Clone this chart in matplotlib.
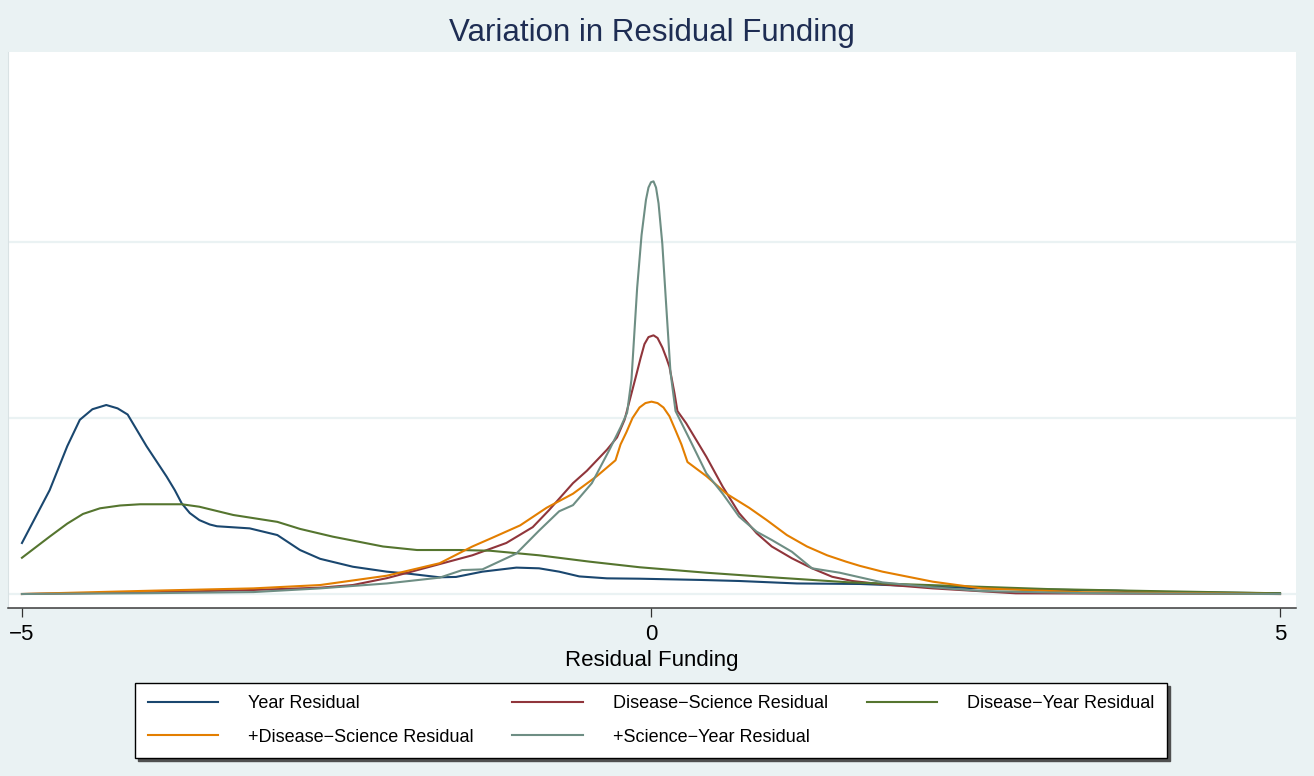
import matplotlib
matplotlib.use('Agg')
import matplotlib.pyplot as plt

plt.rcParams['font.family'] = ['Liberation Sans', 'DejaVu Sans']

# ---------------- data ----------------
year_x = [-5.00, -4.78, -4.64, -4.54, -4.44, -4.33, -4.24, -4.16, -4.01, -3.85,
          -3.785, -3.73, -3.666, -3.59, -3.507, -3.45, -3.19, -2.97, -2.79, -2.63,
          -2.37, -2.10, -1.92, -1.68, -1.55, -1.34, -1.07, -0.89, -0.73, -0.57,
          -0.35, -0.09, 0.39, 0.70, 1.16, 1.66, 2.10, 2.63, 3.04, 3.70,
          3.98, 5.00]
year_y = [0.29, 0.59, 0.84, 0.99, 1.05, 1.074, 1.055, 1.02, 0.84, 0.667,
          0.59, 0.515, 0.46, 0.42, 0.395, 0.385, 0.373, 0.335, 0.25, 0.20,
          0.155, 0.127, 0.115, 0.095, 0.097, 0.127, 0.15, 0.146, 0.127, 0.10,
          0.089, 0.087, 0.08, 0.074, 0.06, 0.057, 0.045, 0.032, 0.026, 0.019,
          0.012, 0.004]

dys_x = [-5.00, -4.78, -4.64, -4.515, -4.38, -4.22, -4.06, -3.73, -3.59, -3.32,
         -2.97, -2.79, -2.53, -2.13, -1.86, -1.52, -1.28, -0.89, -0.49, -0.09,
         0.44, 0.96, 1.58, 2.37, 3.16, 3.96, 5.00]
dys_y = [0.206, 0.326, 0.40, 0.455, 0.487, 0.503, 0.51, 0.51, 0.496, 0.449,
         0.41, 0.37, 0.326, 0.27, 0.25, 0.25, 0.246, 0.22, 0.184, 0.152,
         0.121, 0.095, 0.066, 0.047, 0.028, 0.017, 0.004]

dsr_x = [-5.00, -3.96, -3.16, -2.63, -2.37, -2.10, -1.94, -1.68, -1.42, -1.15,
         -0.94, -0.81, -0.62, -0.51, -0.35, -0.27, -0.21, -0.155, -0.115, -0.083,
         -0.052, -0.02, 0.02, 0.052, 0.091, 0.123, 0.147, 0.187, 0.21, 0.28,
         0.44, 0.57, 0.70, 0.84, 0.96, 1.12, 1.28, 1.44, 1.60, 1.84,
         2.24, 2.90, 5.00]
dsr_y = [0.0, 0.01, 0.023, 0.036, 0.051, 0.09, 0.12, 0.17, 0.22, 0.29,
         0.38, 0.477, 0.63, 0.70, 0.82, 0.89, 0.99, 1.14, 1.25, 1.34,
         1.42, 1.46, 1.47, 1.455, 1.40, 1.34, 1.29, 1.14, 1.04, 0.97,
         0.78, 0.61, 0.46, 0.345, 0.27, 0.203, 0.146, 0.098, 0.074, 0.055,
         0.032, 0.004, 0.0]

pds_x = [-5.00, -3.96, -3.16, -2.63, -2.10, -1.68, -1.42, -1.26, -1.04, -0.83,
         -0.62, -0.43, -0.282, -0.242, -0.195, -0.147, -0.091, -0.044, 0.004, 0.052,
         0.099, 0.147, 0.195, 0.242, 0.29, 0.44, 0.60, 0.78, 0.92, 1.08,
         1.24, 1.40, 1.55, 1.66, 1.84, 2.24, 2.63, 3.43, 5.00]
pds_y = [0.0, 0.019, 0.032, 0.051, 0.104, 0.175, 0.27, 0.32, 0.39, 0.49,
         0.57, 0.67, 0.76, 0.85, 0.92, 1.00, 1.06, 1.085, 1.093, 1.085,
         1.06, 1.01, 0.93, 0.85, 0.75, 0.67, 0.57, 0.49, 0.42, 0.335,
         0.27, 0.22, 0.184, 0.16, 0.127, 0.07, 0.032, 0.01, 0.0]

psy_x = [-5.00, -3.96, -3.16, -2.63, -2.10, -1.68, -1.50, -1.34, -1.07, -0.89,
         -0.73, -0.62, -0.47, -0.33, -0.24, -0.19, -0.155, -0.11, -0.075, -0.04,
         -0.02, 0.00, 0.02, 0.04, 0.06, 0.09, 0.12, 0.155, 0.195, 0.31,
         0.44, 0.57, 0.70, 0.84, 0.96, 1.12, 1.28, 1.50, 1.66, 1.84,
         2.24, 2.63, 3.43, 5.00]
psy_y = [0.0, 0.005, 0.011, 0.032, 0.06, 0.093, 0.136, 0.14, 0.23, 0.36,
         0.47, 0.505, 0.63, 0.82, 0.95, 1.03, 1.22, 1.74, 2.04, 2.24,
         2.31, 2.34, 2.345, 2.31, 2.22, 1.99, 1.65, 1.26, 1.04, 0.875,
         0.686, 0.57, 0.44, 0.354, 0.307, 0.24, 0.146, 0.121, 0.095, 0.066,
         0.038, 0.017, 0.005, 0.0]

labels = ['Year Residual', 'Disease\u2212Science Residual', 'Disease\u2212Year Residual',
          '+Disease\u2212Science Residual', '+Science\u2212Year Residual']
colors = ['#1a476f', '#90353b', '#55752f', '#e37e00', '#6e8e84']
xticks = [-5, 0, 5]
xtick_labels = ['\u22125', '0', '5']
title = 'Variation in Residual Funding'
xlabel = 'Residual Funding'

# ---------------- figure ----------------
BG = '#eaf2f3'
fig = plt.figure(figsize=(13.14, 7.76), dpi=100, facecolor=BG)
ax = fig.add_axes([8/1314, 1-608/776, 1288/1314, 556/776])
ax.set_facecolor('white')

series = [(year_x, year_y), (dsr_x, dsr_y), (dys_x, dys_y), (pds_x, pds_y), (psy_x, psy_y)]
handles = []
for (xs, ys), c, lab in zip(series, colors, labels):
    h, = ax.plot(xs, ys, color=c, lw=1.5, label=lab, solid_joinstyle='round', zorder=3)
    handles.append(h)

ax.set_xlim(-5.111, 5.127)
ax.set_ylim(-0.0795, 3.08)
ax.set_yticks([0, 1, 2])
ax.tick_params(axis='y', left=False, labelleft=False)
ax.grid(axis='y', color=BG, linewidth=1.6)
ax.set_axisbelow(True)

ax.set_xticks(xticks)
ax.set_xticklabels(xtick_labels)
ax.tick_params(axis='x', length=6.5, width=0.9, color='#333333', labelsize=16,
               pad=5, direction='out', labelcolor='black')
for s in ['top', 'right']:
    ax.spines[s].set_visible(False)
ax.spines['left'].set_color('#d9e2e4')
ax.spines['left'].set_linewidth(0.8)
ax.spines['bottom'].set_color('#3a3a3a')
ax.spines['bottom'].set_linewidth(1.1)
ax.set_xlabel(xlabel, fontsize=16, labelpad=3.5)

fig.text(652/1314, 1-41/776, title, ha='center', va='baseline', fontsize=22.5,
         color='#1e2d53')

# legend in row-major order (matplotlib fills column-major)
order = [0, 3, 1, 4, 2]
leg = fig.legend([handles[i] for i in order], [labels[i] for i in order],
                 loc='center', bbox_to_anchor=(135/1314, 1-758/776, 1032/1314, 75/776),
                 mode='expand', ncol=3, fontsize=13, frameon=True, fancybox=False,
                 edgecolor='black', facecolor='white', borderaxespad=0,
                 handlelength=3.9, handletextpad=1.65, borderpad=0.7,
                 labelspacing=0.9, shadow={'color': '#505050', 'alpha': 1.0})
leg.get_frame().set_linewidth(1.0)

fig.savefig('out.png', dpi=100, facecolor=BG)
